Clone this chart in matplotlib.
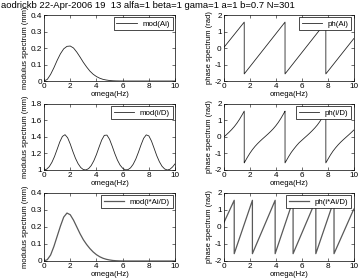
import numpy as np
import matplotlib
matplotlib.use("Agg")
import matplotlib.pyplot as plt

plt.rcParams['font.family'] = ['Liberation Sans', 'DejaVu Sans']
plt.rcParams['font.size'] = 5.5

title = "aodrickb 22-Apr-2006 19  13 alfa=1 beta=1 gama=1 a=1 b=0.7 N=301"

# sampling grids for the smooth curves
omega_q = np.arange(0, 10.01, 0.25)
omega_f = np.arange(0, 10.01, 0.2)

# modulus of Ai
mod_ai = [0, 0.01, 0.04, 0.08, 0.125, 0.165, 0.195, 0.21, 0.212, 0.2, 0.175,
          0.145, 0.113, 0.085, 0.06, 0.041, 0.027, 0.017, 0.01, 0.006, 0.003,
          0.0015, 0.0007, 0.0003, 0, 0, 0, 0, 0, 0, 0, 0, 0, 0, 0, 0, 0, 0, 0, 0, 0]

# phase of Ai (sawtooth vertices)
ph_ai_x = [0, 1.57, 1.57, 4.71, 4.71, 7.85, 7.85, 10]
ph_ai_y = [0.03, 1.57, -1.57, 1.57, -1.57, 1.57, -1.57, 0.57]

# modulus of i/D
mod_id = [1.0, 1.010, 1.041, 1.093, 1.164, 1.251, 1.340, 1.407, 1.428, 1.391,
          1.315, 1.224, 1.141, 1.076, 1.030, 1.005, 1.001, 1.017, 1.054, 1.112,
          1.188, 1.278, 1.363, 1.420, 1.423, 1.372, 1.289, 1.199, 1.120, 1.060,
          1.021, 1.002, 1.004, 1.026, 1.069, 1.132, 1.214, 1.304, 1.384, 1.426,
          1.413, 1.350, 1.263, 1.174, 1.101, 1.046, 1.013, 1.000, 1.008, 1.036,
          1.075]

# phase of i/D
ph_id_x = [0, 0.2, 0.4, 0.6, 0.8, 1.0, 1.2, 1.4, 1.5, 1.57, 1.57, 1.6, 1.8,
           2.0, 2.2, 2.4, 2.6, 2.8, 3.0, 3.2, 3.4, 3.6, 3.8, 4.0, 4.2, 4.4,
           4.6, 4.7, 4.71, 4.71, 4.8, 5.0, 5.2, 5.4, 5.6, 5.8, 6.0, 6.2, 6.4,
           6.6, 6.8, 7.0, 7.2, 7.4, 7.6, 7.8, 7.85, 7.85, 8.0, 8.2, 8.4, 8.6,
           8.8, 9.0, 9.2, 9.4, 9.6, 9.8, 10.0]
ph_id_y = [0, 0.141, 0.288, 0.447, 0.625, 0.829, 1.064, 1.329, 1.470, 1.57,
           -1.57, -1.529, -1.249, -0.992, -0.766, -0.570, -0.399, -0.244,
           -0.099, 0.041, 0.183, 0.333, 0.496, 0.681, 0.894, 1.139, 1.411,
           1.553, 1.57, -1.57, -1.446, -1.171, -0.922, -0.714, -0.518, -0.343,
           -0.201, -0.058, 0.082, 0.227, 0.382, 0.548, 0.732, 0.951, 1.217,
           1.496, 1.57, -1.57, -1.364, -1.094, -0.856, -0.654, -0.471, -0.307,
           -0.159, -0.017, 0.123, 0.268, 0.42]

# modulus of i*Ai/D
mod_iaid = [0, 0.008, 0.035, 0.085, 0.145, 0.205, 0.258, 0.282, 0.272, 0.24,
            0.2, 0.16, 0.125, 0.097, 0.073, 0.053, 0.037, 0.025, 0.016, 0.01,
            0.006, 0.003, 0.0015, 0.0006, 0, 0, 0, 0, 0, 0, 0, 0, 0, 0, 0, 0,
            0, 0, 0, 0, 0]

# phase of i*Ai/D
ph_iaid_x = [0, 0.8, 0.8, 2.2, 2.2, 3.95, 3.95, 5.33, 5.33, 7.08, 7.08,
             8.48, 8.48, 10]
ph_iaid_y = [0.25, 1.57, -1.57, 1.57, -1.57, 1.57, -1.57, 1.57, -1.57, 1.57,
             -1.57, 1.57, -1.57, 1.05]

panels = [
    (omega_q, mod_ai, "mod(Ai)", "modulus spectrum (mm)", (0, 0.4), [0, 0.1, 0.2, 0.3, 0.4], '0.15', 0.6),
    (ph_ai_x, ph_ai_y, "ph(Ai)", "phase spectrum (rad)", (-2, 2), [-2, -1, 0, 1, 2], '0.15', 0.6),
    (omega_f, mod_id, "mod(i/D)", "modulus spectrum (mm)", (1, 1.8), [1, 1.2, 1.4, 1.6, 1.8], '0.15', 0.6),
    (ph_id_x, ph_id_y, "ph(i/D)", "phase spectrum (rad)", (-2, 2), [-2, -1, 0, 1, 2], '0.15', 0.6),
    (omega_q, mod_iaid, "mod(i*Ai/D)", "modulus spectrum (mm)", (0, 0.4), [0, 0.1, 0.2, 0.3, 0.4], '0.35', 0.9),
    (ph_iaid_x, ph_iaid_y, "ph(i*Ai/D)", "phase spectrum (rad)", (-2, 2), [-2, -1, 0, 1, 2], '0.35', 0.9),
]

lefts = [0.122, 0.620]
widths = [0.363, 0.360]
bottoms = [0.7086, 0.3885, 0.0612]
heights = [0.2374, 0.2374, 0.2446]

fig = plt.figure(figsize=(3.61, 2.78), dpi=100)

for i, (x, y, lab, ylab, ylim, yt, col, lw) in enumerate(panels):
    r, c = divmod(i, 2)
    ax = fig.add_axes([lefts[c], bottoms[r], widths[c], heights[r]])
    ax.plot(x, y, color=col, lw=lw, label=lab)
    ax.set_xlim(0, 10)
    ax.set_ylim(*ylim)
    ax.set_xticks([0, 2, 4, 6, 8, 10])
    ax.set_yticks(yt)
    ax.set_yticklabels(["%g" % v for v in yt])
    ax.set_xlabel("omega(Hz)", labelpad=1, fontsize=5.6)
    ax.set_ylabel(ylab, labelpad=1, fontsize=5.5)
    ax.tick_params(direction='in', top=True, right=True, length=2, width=0.4,
                   pad=1.5, labelsize=5.9)
    for s in ax.spines.values():
        s.set_linewidth(0.5)
    leg = ax.legend(loc='upper right', fancybox=False, framealpha=1, borderpad=0.35,
                    handlelength=2.6, borderaxespad=0.3, handletextpad=0.7,
                    fontsize=5.7)
    leg.get_frame().set_edgecolor('black')
    leg.get_frame().set_linewidth(0.5)

fig.text(0.003, 0.995, title, ha='left', va='top', fontsize=6.8)

fig.savefig("out.png", dpi=100)
